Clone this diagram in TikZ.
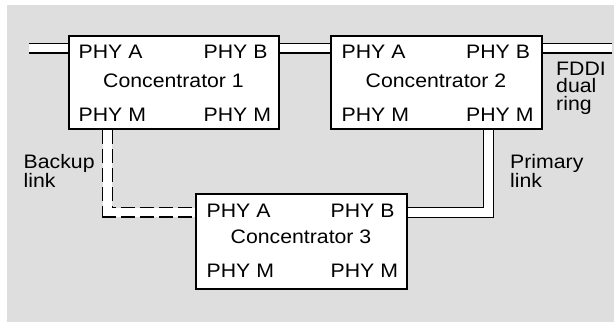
\documentclass[tikz,border=0pt]{standalone}
\usepackage{fontspec}
\usepackage{graphicx}
\setmainfont{Liberation Sans}
\newcommand{\wt}[1]{\scalebox{1.09}[1]{#1}}
\definecolor{bg}{RGB}{222,222,222}
\begin{document}
\begin{tikzpicture}[x=1pt,y=-1pt,
  conc/.style={draw=black,line width=2pt,fill=white,minimum width=#1,minimum height=93pt,inner sep=0pt,anchor=north west},
  conc/.default=210pt,
  lbl/.style={inner sep=0pt,anchor=base west,font=\fontsize{19.5}{22}\selectfont},
  side/.style={inner sep=0pt,anchor=base west,align=left,font=\fontsize{19.5}{17.8}\selectfont},
  ring/.style={draw=black,line width=1.2pt,double=white,double distance=8.6pt},
  backbase/.style={draw=white,line width=9pt},
  backlink/.style={draw=black,line width=1.2pt,double=white,double distance=8.6pt,dash pattern=on 14pt off 5pt}]
\useasboundingbox (0,0) rectangle (615,322);
\fill[bg] (7,5) rectangle (614,322);
% coordinates
\coordinate (ringL) at (29,48);
\coordinate (ringR) at (612,48);
\coordinate (bk) at (107.5,212);
\coordinate (pr) at (488.3,212.3);
% box positions
\path (67.5,35) node[conc=210pt,draw=none,fill=none] (c1) {};
\path (329.5,35) node[conc=211pt,draw=none,fill=none] (c2) {};
\path (194.5,193) node[conc=211pt,minimum height=95pt,draw=none,fill=none] (c3) {};
% links
\draw[ring] (ringL) -- (ringL -| c1.west);
\draw[ring] (ringL -| c1.east) -- (ringL -| c2.west);
\draw[ring] (ringL -| c2.east) -- (ringR);
\draw[ring] (pr |- c2.south) -- (pr) -- (pr -| c3.east);
\draw[backbase] (bk |- c1.south) -- (bk) -- (bk -| c3.west);
\draw[backlink] (bk |- c1.south) -- (bk) -- (bk -| c3.west);
% boxes drawn
\path (67.5,35) node[conc=210pt] (b1) {};
\path (329.5,35) node[conc=211pt] (b2) {};
\path (194.5,193) node[conc=211pt,minimum height=95pt] (b3) {};
% texts box 1
\node[lbl] (a1) at ([shift={(11pt,-23.5pt)}]b1.north west) {\wt{PHY A}};
\node[lbl] (bb1) at ([shift={(136pt,-23.5pt)}]b1.north west) {\wt{PHY B}};
\node[lbl,anchor=base] (n1) at ([yshift=-52.3pt]b1.north) {\wt{Concentrator 1}};
\node[lbl] (m1) at ([shift={(11pt,-86pt)}]b1.north west) {\wt{PHY M}};
\node[lbl] (mm1) at ([shift={(136pt,-86pt)}]b1.north west) {\wt{PHY M}};
% texts box 2
\node[lbl] (a2) at ([shift={(12pt,-23.5pt)}]b2.north west) {\wt{PHY A}};
\node[lbl] (bb2) at ([shift={(136.5pt,-23.5pt)}]b2.north west) {\wt{PHY B}};
\node[lbl,anchor=base] (n2) at ([yshift=-52.3pt]b2.north) {\wt{Concentrator 2}};
\node[lbl] (m2) at ([shift={(12pt,-86pt)}]b2.north west) {\wt{PHY M}};
\node[lbl] (mm2) at ([shift={(136.5pt,-86pt)}]b2.north west) {\wt{PHY M}};
% texts box 3
\node[lbl] (a3) at ([shift={(12pt,-24.5pt)}]b3.north west) {\wt{PHY A}};
\node[lbl] (bb3) at ([shift={(136pt,-24.5pt)}]b3.north west) {\wt{PHY B}};
\node[lbl,anchor=base] (n3) at ([yshift=-50.5pt]b3.north) {\wt{Concentrator 3}};
\node[lbl] (m3) at ([shift={(12pt,-84.5pt)}]b3.north west) {\wt{PHY M}};
\node[lbl] (mm3) at ([shift={(136pt,-84.5pt)}]b3.north west) {\wt{PHY M}};
% side labels (anchor = baseline of last line)
\node[side] (fddi) at (556,110.6) {\wt{FDDI}\\\wt{dual}\\\wt{ring}};
\node[side] (backup) at (23.5,187.7) {\wt{Backup}\\\wt{link}};
\node[side] (primary) at (510,187.7) {\wt{Primary}\\\wt{link}};
\end{tikzpicture}
\end{document}
